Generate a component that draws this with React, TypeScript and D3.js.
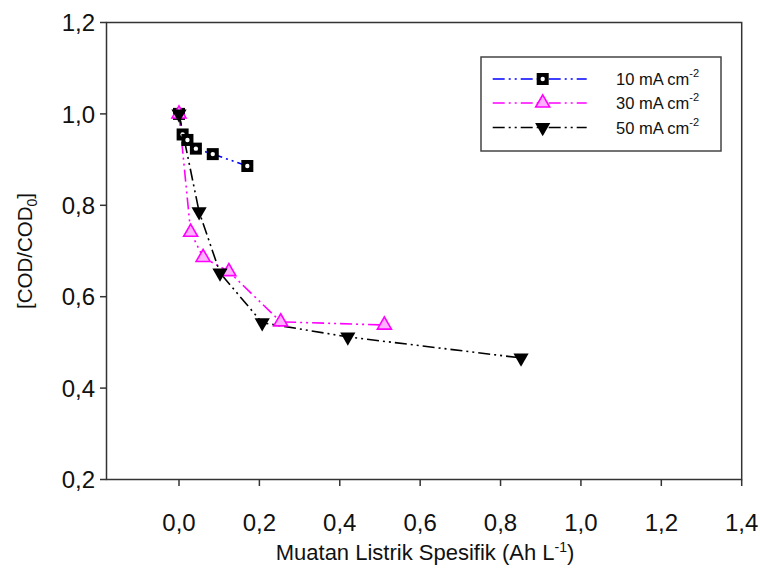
import React from "react";
import * as d3 from "d3";

const xTicks = [0, 0.2, 0.4, 0.6, 0.8, 1.0, 1.2, 1.4];
const yTicks = [0.2, 0.4, 0.6, 0.8, 1.0, 1.2];

const x10 = [0, 0.009, 0.021, 0.042, 0.084, 0.17];
const y10 = [1.0, 0.955, 0.943, 0.924, 0.912, 0.886];
const x30 = [0, 0.029, 0.06, 0.124, 0.253, 0.511];
const y30 = [1.0, 0.741, 0.686, 0.655, 0.545, 0.538];
const x50 = [0, 0.05, 0.102, 0.207, 0.42, 0.851];
const y50 = [1.0, 0.786, 0.652, 0.543, 0.512, 0.466];

const seriesNames = ["10 mA cm", "30 mA cm", "50 mA cm"];

const FONT = "'Liberation Sans', Arial, sans-serif";
const DASH = "12,4,2,4,2,4";

const fmt = (v: number) => v.toFixed(1).replace(".", ",");

function Marker({ kind, cx, cy }: { kind: number; cx: number; cy: number }) {
  if (kind === 0) {
    return (
      <g>
        <rect x={cx - 6} y={cy - 6} width={12} height={12} fill="#000" />
        <circle cx={cx} cy={cy} r={2.2} fill="#fff" />
      </g>
    );
  }
  if (kind === 1) {
    const p = d3.symbol().type(d3.symbolTriangle).size(85)();
    return (
      <path d={p || ""} transform={`translate(${cx},${cy})`} fill="#ffb0ff" stroke="#ff00ff" strokeWidth={1.6} />
    );
  }
  const p = d3.symbol().type(d3.symbolTriangle).size(100)();
  return <path d={p || ""} transform={`translate(${cx},${cy}) rotate(180)`} fill="#000" />;
}

export default function App() {
  const W = 760;
  const H = 568;
  const left = 106.5;
  const right = 741.7;
  const top = 22.5;
  const bottom = 479.5;

  const x = d3.scaleLinear().domain([0, 1.4]).range([179, 741.7]);
  const xMin = x.invert(left);
  x.domain([xMin, 1.4]).range([left, right]);
  const y = d3.scaleLinear().domain([0.2, 1.2]).range([bottom, top]);

  const series = [
    { xs: x10, ys: y10, color: "#0000ff" },
    { xs: x30, ys: y30, color: "#ff00ff" },
    { xs: x50, ys: y50, color: "#000000" },
  ];

  const line = d3
    .line<[number, number]>()
    .x((d) => x(d[0]))
    .y((d) => y(d[1]));

  const legX0 = 492.7;
  const legX1 = 586.7;
  const legRows = [79, 103, 127.5];

  return (
    <svg
      width={W}
      height={H}
      style={{ position: "absolute", left: 0, top: 0, background: "#fff" }}
      fontFamily={FONT}
    >
      <rect x={0} y={0} width={W} height={H} fill="#fff" />
      {/* frame */}
      <rect x={left} y={top} width={right - left} height={bottom - top} fill="none" stroke="#333" strokeWidth={1.5} />
      {/* y ticks */}
      {yTicks.map((t) => (
        <g key={"y" + t}>
          <line x1={left - 6.5} x2={left} y1={y(t)} y2={y(t)} stroke="#333" strokeWidth={1.5} />
          <text x={95} y={y(t)} dy="0.36em" textAnchor="end" fontSize={24} fill="#111">
            {fmt(t)}
          </text>
        </g>
      ))}
      {/* x ticks */}
      {xTicks.map((t) => (
        <g key={"x" + t}>
          <line x1={x(t)} x2={x(t)} y1={bottom} y2={bottom + 6.5} stroke="#333" strokeWidth={1.5} />
          <text x={x(t)} y={531} textAnchor="middle" fontSize={24} fill="#111">
            {fmt(t)}
          </text>
        </g>
      ))}
      {/* axis titles */}
      <text x={425} y={560} textAnchor="middle" fontSize={22} fill="#111">
        Muatan Listrik Spesifik (Ah L
        <tspan dy={-8} fontSize={14}>-1</tspan>
        <tspan dy={8}>)</tspan>
      </text>
      <text
        transform={`translate(32,${(top + bottom) / 2}) rotate(-90)`}
        textAnchor="middle"
        fontSize={20.5}
        fill="#111"
      >
        [COD/COD
        <tspan dy={5} fontSize={14}>0</tspan>
        <tspan dy={-5}>]</tspan>
      </text>
      {/* series */}
      {series.map((s, i) => {
        const pts: [number, number][] = s.xs.map((v, j) => [v, s.ys[j]]);
        return (
          <g key={"s" + i}>
            <path d={line(pts) || ""} fill="none" stroke={s.color} strokeWidth={1.6} strokeDasharray={DASH} />
          </g>
        );
      })}
      {series.map((s, i) => (
        <g key={"m" + i}>
          {s.xs.map((v, j) => (
            <Marker key={j} kind={i} cx={x(v)} cy={y(s.ys[j])} />
          ))}
        </g>
      ))}
      {/* legend */}
      <rect x={481} y={57} width={240} height={94} fill="#fff" stroke="#444" strokeWidth={1.5} />
      {series.map((s, i) => (
        <g key={"l" + i}>
          <line
            x1={legX0}
            x2={legX1}
            y1={legRows[i]}
            y2={legRows[i]}
            stroke={s.color}
            strokeWidth={1.6}
            strokeDasharray={DASH}
          />
          <Marker kind={i} cx={(legX0 + legX1) / 2 + 3} cy={legRows[i]} />
          <text x={616} y={legRows[i] + 6} fontSize={16.5} fill="#111">
            {seriesNames[i]}
            <tspan dy={-8} fontSize={11}>-2</tspan>
          </text>
        </g>
      ))}
    </svg>
  );
}
